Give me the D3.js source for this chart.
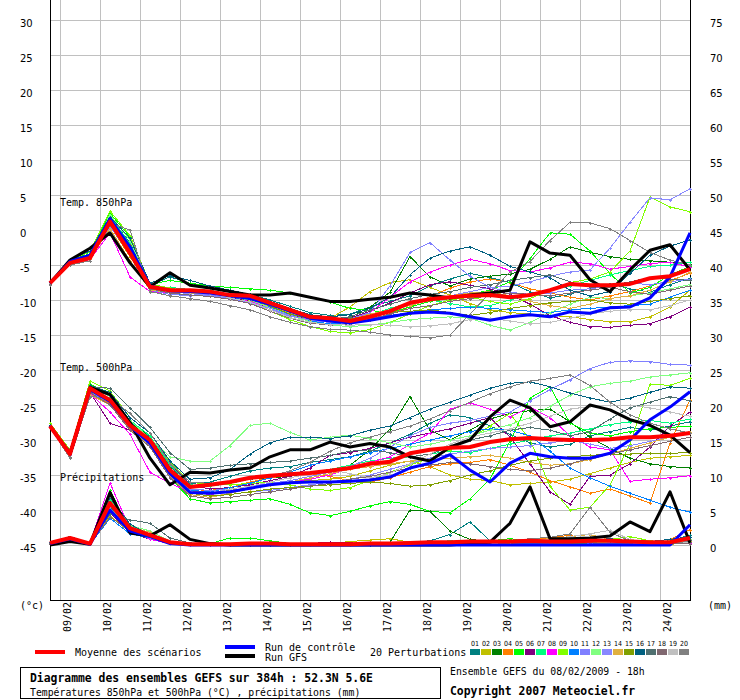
<!DOCTYPE html>
<html>
<head>
<meta charset="utf-8">
<script src="https://cdn.jsdelivr.net/npm/d3@7"></script>
<style>
  body { margin: 0; background: #fff; }
  svg { display: block; }
</style>
</head>
<body>
<div id="chart"></div>
<script>
// forecast hours (run of 08/02/2009 18h)
const hours = [0,12,24,36,48,60,72,84,96,108,120,132,144,156,168,180,192,204,216,228,240,252,264,276,288,300,312,324,336,348,360,372,384];
const dayLabels = ['09/02','10/02','11/02','12/02','13/02','14/02','15/02','16/02','17/02','18/02','19/02','20/02','21/02','22/02','23/02','24/02'];
const dayHours = [6,30,54,78,102,126,150,174,198,222,246,270,294,318,342,366];
const tempTicks = [30,25,20,15,10,5,0,-5,-10,-15,-20,-25,-30,-35,-40,-45];
const precipTicks = [75,70,65,60,55,50,45,40,35,30,25,20,15,10,5,0];
const memberNames = ['01','02','03','04','05','06','07','08','09','10','11','12','13','14','15','16','17','18','19','20'];
const memberColors = ['#008080','#c0c000','#008000','#ff8000','#00ff00','#800080','#00ff80','#ff00ff','#80ff00','#0080ff',
                      '#8080ff','#80ff80','#8888ff','#e0b040','#80a000','#006080','#507070','#806870','#c0c0c0','#808080'];

// Temp. 850hPa
const t850Mean = [-7.6,-4.7,-4.0,1.2,-3.3,-8.1,-8.6,-8.6,-8.8,-9.3,-9.4,-10.4,-11.4,-12.4,-12.6,-13.0,-12.4,-11.6,-10.4,-9.9,-9.6,-9.4,-9.3,-9.6,-9.3,-8.6,-7.7,-7.9,-7.9,-7.7,-6.9,-6.6,-5.6];
const t850Control = [-7.6,-4.5,-3.6,1.6,-2.4,-8.0,-8.7,-8.8,-9.0,-9.4,-9.8,-10.6,-11.6,-12.6,-13.0,-13.3,-12.9,-12.4,-11.9,-11.7,-11.9,-12.4,-12.9,-12.4,-12.1,-12.4,-11.7,-11.9,-11.1,-11.0,-9.7,-6.7,-0.4];
const t850Gfs = [-7.6,-4.3,-2.6,-0.4,-4.7,-8.1,-6.1,-7.9,-8.3,-8.8,-9.3,-9.3,-9.0,-9.6,-10.2,-10.2,-9.9,-9.6,-9.0,-9.3,-9.7,-9.3,-9.0,-8.6,-1.7,-3.3,-3.6,-7.1,-8.8,-5.7,-2.9,-2.1,-5.7];
const t850Pert = [
  [-7.6,-4.3,-3.4,1.8,-1.8,-7.9,-6.7,-7.6,-8.2,-8.8,-9.2,-10.0,-10.9,-11.8,-12.2,-12.0,-11.0,-10.2,-9.4,-8.0,-7.0,-6.2,-6.8,-7.5,-8.8,-9.7,-9.2,-8.3,-7.7,-8.4,-8.9,-7.8,-6.9],
  [-7.7,-4.8,-3.9,0.6,-3.8,-8.3,-8.8,-8.9,-9.0,-9.6,-10.1,-11.0,-12.0,-12.9,-12.6,-11.0,-8.8,-7.5,-7.1,-8.2,-9.3,-10.5,-11.4,-11.8,-12.0,-12.2,-12.4,-12.8,-13.1,-13.1,-12.4,-11.0,-8.6],
  [-7.5,-4.4,-3.6,1.2,-2.6,-8.0,-8.4,-8.6,-8.9,-9.4,-9.8,-10.7,-11.5,-12.4,-12.7,-12.5,-11.0,-8.9,-3.8,-6.7,-8.0,-7.0,-6.6,-6.3,-5.6,-4.2,-2.4,-3.2,-3.8,-4.2,-4.4,-4.6,-4.9],
  [-7.7,-5.0,-4.2,0.4,-3.2,-8.5,-8.9,-9.0,-9.1,-9.5,-9.8,-10.7,-11.6,-12.6,-13.0,-13.3,-12.8,-12.0,-11.0,-9.5,-8.3,-7.4,-7.0,-7.5,-8.4,-9.0,-9.6,-10.0,-9.4,-8.8,-8.0,-7.2,-6.2],
  [-7.5,-4.2,-3.2,2.4,-1.0,-7.8,-7.2,-7.6,-8.0,-8.2,-8.4,-8.6,-9.0,-9.6,-10.3,-11.2,-11.5,-11.8,-11.0,-10.2,-9.8,-9.2,-8.6,-7.4,-4.1,-0.4,-0.6,-3.0,-6.2,-9.0,-8.2,-6.4,-5.2],
  [-7.6,-4.6,-3.8,0.9,-3.6,-8.4,-8.7,-8.9,-9.2,-9.7,-10.2,-11.1,-12.0,-12.8,-13.0,-12.6,-11.6,-10.4,-9.0,-7.8,-7.4,-7.9,-8.4,-9.2,-10.6,-12.2,-13.2,-13.8,-13.9,-13.6,-13.4,-12.4,-11.0],
  [-7.6,-4.5,-3.4,2.0,-2.0,-8.1,-8.2,-8.5,-8.6,-9.2,-9.8,-10.8,-11.9,-12.6,-12.8,-12.9,-12.2,-11.2,-10.4,-10.0,-10.5,-11.0,-10.8,-10.0,-9.2,-8.6,-8.0,-7.2,-6.4,-5.8,-5.2,-5.0,-4.6],
  [-7.6,-4.9,-4.2,-0.4,-6.7,-8.8,-9.0,-9.3,-9.5,-9.8,-10.2,-11.0,-11.9,-12.8,-13.2,-12.8,-11.8,-9.6,-7.4,-6.0,-5.0,-4.2,-4.8,-5.8,-6.0,-5.4,-4.6,-4.8,-5.6,-5.2,-4.8,-4.6,-5.3],
  [-7.4,-4.3,-3.1,2.7,-0.8,-7.7,-8.3,-8.8,-9.1,-9.7,-10.4,-11.6,-12.8,-13.8,-14.5,-14.7,-14.2,-13.2,-12.0,-10.8,-10.0,-9.6,-10.2,-10.6,-9.8,-8.6,-7.5,-7.0,-6.0,-3.0,4.7,3.3,2.6],
  [-7.7,-4.4,-3.5,1.0,-2.8,-8.4,-9.0,-9.4,-9.3,-9.6,-10.0,-11.0,-12.1,-13.0,-13.4,-13.2,-12.6,-12.2,-11.8,-11.4,-11.2,-11.0,-11.2,-11.4,-11.6,-11.8,-11.4,-11.2,-11.0,-10.8,-10.6,-9.6,-8.6],
  [-7.6,-4.7,-3.9,0.8,-3.4,-8.6,-9.2,-9.4,-9.4,-9.8,-10.4,-11.4,-12.3,-12.9,-13.1,-12.7,-11.8,-8.0,-3.2,-1.8,-4.3,-6.6,-8.2,-8.9,-9.2,-9.0,-8.6,-8.4,-8.0,-7.6,-7.8,-7.4,-7.0],
  [-7.5,-4.5,-3.6,2.2,-1.5,-8.0,-8.6,-8.8,-9.0,-9.5,-10.0,-11.1,-12.2,-13.1,-13.6,-13.8,-13.6,-13.2,-12.8,-12.6,-12.4,-12.6,-13.6,-14.3,-13.2,-11.8,-10.6,-9.6,-9.8,-9.4,-9.0,-8.4,-7.8],
  [-7.7,-4.8,-4.0,0.5,-3.4,-8.2,-8.8,-9.1,-9.3,-9.7,-10.3,-11.2,-12.2,-12.9,-13.2,-13.0,-12.4,-11.4,-10.6,-10.0,-9.4,-8.8,-8.2,-8.0,-7.4,-6.6,-6.0,-5.7,-2.6,1.1,4.6,4.3,5.9],
  [-7.7,-4.9,-4.1,0.2,-4.4,-8.6,-8.9,-9.0,-9.1,-9.4,-9.9,-10.9,-11.9,-12.7,-13.0,-12.8,-12.0,-11.4,-10.8,-10.0,-9.4,-9.0,-8.8,-9.4,-10.2,-10.8,-11.2,-10.6,-9.8,-9.4,-8.6,-7.4,-6.0],
  [-7.6,-4.4,-3.5,1.4,-2.2,-8.1,-8.5,-8.7,-8.8,-9.2,-9.8,-10.9,-12.0,-12.7,-12.9,-12.7,-12.2,-11.8,-11.6,-11.4,-11.8,-12.2,-11.8,-11.2,-10.8,-10.4,-10.2,-10.0,-10.4,-10.6,-10.2,-9.8,-9.4],
  [-7.6,-4.2,-3.0,1.9,-1.2,-7.6,-6.5,-7.2,-8.0,-8.6,-9.2,-10.2,-11.2,-12.1,-12.4,-12.1,-11.2,-9.6,-6.4,-4.0,-3.0,-2.4,-3.6,-5.2,-6.0,-6.8,-8.6,-9.4,-8.8,-6.2,-3.6,-2.3,-1.4],
  [-7.6,-4.6,-3.7,1.0,-2.6,-8.2,-8.6,-8.8,-9.1,-9.5,-9.9,-10.8,-11.7,-12.6,-12.8,-12.4,-11.4,-10.6,-9.8,-9.2,-8.8,-8.2,-7.8,-7.2,-6.8,-6.4,-7.4,-8.2,-8.0,-7.4,-6.8,-7.0,-7.2],
  [-7.7,-4.7,-4.0,0.7,-3.0,-8.4,-9.0,-9.3,-9.5,-9.9,-10.5,-11.6,-12.6,-13.3,-13.6,-13.4,-12.8,-12.0,-11.2,-10.8,-10.2,-9.8,-9.4,-9.0,-9.2,-9.4,-9.0,-8.6,-8.2,-8.8,-9.2,-8.6,-8.0],
  [-7.6,-4.5,-3.6,1.3,-2.4,-8.2,-8.7,-8.9,-9.1,-9.7,-10.3,-11.4,-12.5,-13.2,-13.5,-13.6,-13.5,-13.6,-13.8,-13.7,-13.4,-12.8,-12.6,-13.0,-13.4,-13.2,-12.6,-12.0,-11.6,-11.4,-11.4,-10.8,-10.0],
  [-7.8,-5.0,-4.4,1.0,0.0,-8.8,-9.4,-9.8,-10.2,-10.8,-11.4,-12.4,-13.2,-13.8,-14.2,-14.3,-14.6,-15.0,-15.2,-15.4,-15.0,-12.0,-9.0,-6.0,-4.5,-1.5,1.1,1.0,0.2,-1.5,-3.2,-4.3,-5.0]
];

// Temp. 500hPa
const t500Mean = [-28.0,-32.0,-22.6,-24.3,-27.9,-30.0,-34.3,-36.7,-36.4,-36.0,-35.4,-35.1,-34.9,-34.7,-34.4,-34.0,-33.4,-33.1,-31.9,-31.4,-31.1,-31.0,-30.3,-29.9,-29.7,-29.9,-30.0,-30.0,-29.9,-29.6,-29.6,-29.4,-29.0];
const t500Control = [-28.0,-32.0,-22.8,-24.5,-28.0,-30.5,-34.8,-37.5,-37.6,-37.4,-36.9,-36.4,-36.1,-36.0,-36.0,-35.9,-35.7,-35.3,-34.0,-33.3,-32.1,-34.3,-36.0,-33.3,-31.9,-32.4,-32.6,-32.6,-31.9,-30.0,-27.1,-25.3,-23.1];
const t500Gfs = [-28.0,-32.0,-22.5,-23.5,-27.5,-32.6,-36.4,-34.6,-34.7,-34.3,-34.0,-32.4,-31.4,-31.4,-30.3,-31.0,-30.5,-31.0,-32.4,-33.0,-31.0,-30.0,-26.7,-24.3,-25.4,-28.1,-27.4,-25.0,-25.7,-27.1,-27.9,-29.3,-31.8];
const t500Pert = [
  [-27.8,-31.6,-22.8,-23.6,-27.4,-29.6,-33.8,-36.2,-36.0,-35.2,-34.4,-34.0,-33.8,-33.2,-32.8,-32.4,-31.6,-30.4,-29.2,-27.6,-26.4,-26.8,-28.0,-29.2,-30.4,-31.0,-30.6,-29.4,-28.8,-28.2,-28.6,-28.0,-27.4],
  [-28.2,-32.2,-23.0,-24.6,-28.0,-30.6,-34.8,-37.2,-37.6,-37.2,-36.8,-36.4,-36.0,-35.8,-35.6,-35.2,-34.4,-33.6,-33.0,-33.8,-35.0,-35.6,-35.8,-36.4,-36.2,-36.0,-35.6,-34.8,-34.0,-33.2,-32.6,-32.4,-32.2],
  [-28.0,-31.8,-22.4,-23.8,-27.6,-29.4,-34.0,-36.6,-36.4,-36.0,-35.6,-35.4,-35.2,-34.6,-34.2,-33.6,-31.4,-28.4,-23.8,-28.6,-30.0,-28.6,-27.0,-26.2,-25.8,-25.6,-27.4,-29.6,-31.2,-32.6,-33.4,-33.8,-34.0],
  [-28.0,-32.4,-23.4,-24.8,-28.4,-30.4,-34.8,-37.4,-37.2,-36.8,-36.0,-35.4,-35.0,-34.8,-35.2,-35.8,-36.0,-35.4,-34.6,-33.8,-33.4,-33.2,-32.8,-33.6,-34.6,-35.8,-36.7,-37.6,-37.0,-38.0,-39.0,-30.4,-24.3],
  [-27.8,-32.0,-22.0,-23.4,-27.6,-30.6,-35.4,-38.4,-39.0,-38.8,-38.6,-38.4,-39.2,-40.4,-40.8,-40.2,-39.4,-38.8,-39.2,-40.2,-40.4,-38.4,-35.6,-30.2,-24.0,-22.4,-27.6,-29.0,-29.4,-28.8,-28.4,-28.2,-28.0],
  [-28.0,-32.2,-23.2,-27.6,-28.6,-29.6,-33.4,-36.4,-37.0,-36.8,-36.4,-35.8,-35.2,-34.0,-32.2,-31.8,-31.2,-30.4,-29.6,-29.0,-28.4,-27.6,-26.8,-29.6,-33.4,-37.4,-39.2,-35.2,-35.0,-33.4,-31.0,-28.0,-26.0],
  [-28.0,-31.8,-22.2,-23.6,-27.2,-29.4,-33.6,-36.4,-36.6,-36.2,-35.6,-35.0,-34.8,-34.6,-34.2,-33.6,-33.0,-32.6,-32.4,-32.0,-31.6,-31.8,-31.2,-30.6,-30.0,-29.4,-29.0,-28.4,-27.8,-27.4,-27.2,-27.6,-27.0],
  [-28.2,-32.4,-23.4,-26.0,-29.2,-34.6,-36.2,-37.4,-37.8,-37.4,-36.8,-36.4,-36.0,-35.6,-35.0,-34.0,-33.2,-32.4,-30.6,-29.0,-25.6,-24.7,-25.6,-26.7,-25.3,-26.8,-29.4,-31.0,-31.4,-35.9,-35.6,-35.4,-35.1],
  [-27.6,-31.4,-21.6,-23.0,-26.8,-29.0,-33.2,-36.0,-36.4,-36.4,-36.2,-36.0,-36.4,-37.0,-37.2,-36.8,-35.8,-34.6,-33.6,-32.6,-31.4,-29.8,-28.0,-26.2,-30.0,-36.6,-40.0,-39.6,-36.4,-30.6,-22.0,-22.2,-21.2],
  [-28.0,-32.0,-22.8,-24.2,-28.0,-30.2,-34.6,-37.2,-37.4,-36.8,-36.2,-35.4,-34.6,-33.6,-33.0,-32.4,-31.8,-31.2,-30.6,-30.0,-29.4,-28.8,-28.4,-28.6,-29.4,-31.6,-34.0,-35.4,-36.6,-37.6,-38.6,-39.6,-40.3],
  [-28.2,-32.2,-23.0,-24.6,-28.2,-30.4,-34.6,-37.0,-37.2,-37.0,-36.6,-36.2,-35.8,-35.2,-34.6,-33.8,-32.6,-31.0,-29.4,-28.2,-27.6,-27.2,-26.6,-26.0,-24.4,-22.8,-21.4,-19.8,-18.9,-18.7,-18.8,-19.2,-19.3],
  [-27.8,-31.8,-22.4,-23.8,-27.2,-29.8,-32.4,-33.0,-33.0,-30.8,-27.9,-27.6,-28.9,-30.0,-29.6,-29.3,-29.8,-30.4,-31.0,-30.6,-30.0,-29.4,-28.6,-27.8,-26.8,-25.2,-23.6,-22.4,-21.9,-21.6,-21.0,-20.7,-20.4],
  [-28.0,-32.2,-23.2,-24.6,-28.2,-30.6,-35.0,-37.6,-38.0,-37.8,-37.4,-37.2,-36.8,-36.4,-36.0,-35.6,-35.0,-34.2,-33.4,-32.6,-32.0,-31.6,-31.2,-31.0,-30.8,-30.4,-30.0,-30.6,-31.2,-30.8,-30.2,-29.6,-29.0],
  [-28.0,-32.6,-23.6,-25.0,-28.6,-30.8,-35.2,-37.8,-38.2,-37.6,-37.0,-36.4,-36.0,-35.4,-34.8,-34.2,-33.8,-33.4,-33.0,-32.8,-32.6,-32.4,-32.2,-32.6,-33.2,-33.6,-33.4,-32.8,-32.0,-31.2,-30.4,-29.6,-28.8],
  [-28.0,-32.0,-22.8,-24.4,-28.0,-30.4,-34.8,-37.6,-38.0,-37.8,-37.4,-37.0,-36.8,-36.6,-36.4,-36.2,-36.0,-36.2,-36.6,-36.4,-35.8,-35.0,-34.4,-33.6,-33.0,-32.6,-32.4,-32.2,-32.0,-32.0,-31.9,-31.9,-31.8],
  [-27.8,-31.6,-22.2,-23.2,-26.8,-29.0,-33.0,-35.6,-35.4,-34.2,-32.0,-30.4,-29.6,-29.6,-29.8,-29.4,-28.6,-28.0,-26.8,-25.6,-24.6,-23.6,-22.6,-21.9,-21.7,-22.4,-23.3,-24.0,-24.6,-24.0,-23.2,-22.4,-22.6],
  [-28.0,-31.8,-22.4,-22.6,-25.4,-28.2,-31.8,-34.2,-34.0,-33.6,-33.4,-33.2,-33.0,-32.6,-32.2,-31.6,-31.4,-31.8,-32.4,-32.0,-31.0,-30.0,-29.4,-28.6,-28.2,-28.6,-29.4,-28.8,-27.0,-25.4,-24.6,-23.8,-24.4],
  [-28.2,-32.4,-23.2,-25.0,-28.6,-31.0,-35.4,-38.0,-38.4,-38.2,-37.8,-37.4,-37.0,-36.6,-36.2,-35.6,-35.2,-34.6,-34.0,-33.6,-33.2,-33.4,-33.8,-34.2,-34.4,-34.0,-33.4,-32.6,-32.0,-31.4,-30.8,-30.2,-29.6],
  [-28.0,-32.0,-23.0,-24.6,-28.2,-30.4,-34.8,-37.4,-37.6,-37.0,-36.6,-36.0,-35.4,-34.8,-34.2,-34.8,-35.4,-34.8,-33.4,-32.0,-30.6,-29.6,-29.0,-28.4,-27.6,-26.6,-25.6,-25.2,-25.0,-25.0,-25.4,-26.0,-26.6],
  [-28.2,-32.6,-23.8,-24.0,-26.2,-29.0,-33.4,-36.0,-36.2,-36.0,-35.6,-35.2,-34.4,-33.2,-31.6,-30.4,-29.6,-28.8,-28.0,-27.0,-25.8,-24.6,-23.4,-22.4,-21.6,-21.2,-20.7,-22.2,-24.6,-26.4,-27.6,-28.4,-29.0]
];

// Précipitations (mm)
const rainMean = [0.3,1.0,0.2,6.0,2.4,1.4,0.4,0.1,0.1,0.1,0.2,0.2,0.1,0.1,0.1,0.1,0.2,0.2,0.3,0.4,0.4,0.5,0.5,0.5,0.6,0.5,0.5,0.6,0.6,0.5,0.4,0.4,1.0];
const rainControl = [0.2,0.9,0.1,5.0,2.0,1.2,0.2,0,0,0,0,0,0,0,0,0,0,0,0,0,0,0,0,0,0,0,0,0,0,0,0,0,2.9];
const rainGfs = [0,0.5,0.1,7.5,1.7,1.3,2.9,0.8,0.2,0,0,0,0,0,0,0,0,0,0,0,0,0.2,0.4,3.1,8.3,0.9,0.9,1.0,1.3,3.3,1.9,7.6,0.3];
const rainPert = [
  [0.3,1.0,0.2,5.4,2.6,1.2,0.3,0.1,0,0,0.1,0.1,0,0,0,0.1,0.2,0.3,0.4,0.6,1.5,3.3,0.6,0.3,0.2,0.4,0.6,0.3,0.5,0.8,0.4,0.6,1.4],
  [0.2,0.9,0.1,4.2,1.8,0.9,0.2,0,0,0.1,0.2,0.3,0.2,0.1,0.2,0.5,0.7,0.9,0.4,0.2,0.1,0.2,0.3,0.5,0.4,0.2,0.1,0.3,0.6,0.4,0.2,0.1,0.3],
  [0.3,1.1,0.2,6.2,2.2,1.4,0.4,0.1,0,0,0,0.1,0.1,0,0.1,0.2,0.3,0.4,5.0,4.8,2.0,0.8,0.5,0.3,0.4,0.3,0.2,0.6,0.4,0.2,0.1,0.3,0.6],
  [0.2,0.8,0.1,5.0,2.4,1.6,0.3,0.1,0,0,0.1,0.1,0,0,0,0,0.1,0.2,0.3,0.2,0.1,0.3,0.5,0.4,0.8,1.0,1.4,0.6,0.4,0.3,0.5,0.8,2.2],
  [0.4,1.2,0.3,7.8,2.0,1.2,0.3,0.1,0.2,1.0,1.0,0.6,0.2,0.1,0,0,0.1,0.1,0.2,0.2,0.3,0.4,0.6,0.9,0.6,0.4,0.2,0.3,0.5,0.3,0.2,0.4,0.3],
  [0.2,0.9,0.2,4.6,1.8,0.8,0.2,0,0,0,0,0,0.1,0.2,0.4,0.3,0.2,0.1,0.2,0.3,0.2,0.1,0.2,0.4,0.3,0.5,0.8,0.4,0.3,0.2,0.1,0.2,0.4],
  [0.3,1.0,0.2,6.6,2.8,1.6,0.5,0.2,0.1,0,0,0.1,0.2,0.1,0,0.1,0.2,0.2,0.3,0.4,0.6,0.4,0.3,0.2,0.4,0.6,0.4,0.3,0.5,0.7,0.6,0.4,0.5],
  [0.3,1.0,0.3,8.9,2.2,0.8,0.2,0,0,0,0.1,0,0,0,0,0,0.1,0.1,0.2,0.3,0.4,0.3,0.2,0.3,0.6,0.4,0.3,0.5,0.4,0.3,0.2,0.4,0.3],
  [0.4,1.1,0.2,7.2,2.0,1.0,0.3,0.1,0,0,0,0.1,0.1,0,0,0.1,0.1,0.2,0.3,0.2,0.2,0.3,0.4,0.6,0.9,0.7,0.4,0.5,0.8,1.2,0.6,0.4,0.8],
  [0.2,0.9,0.1,3.8,1.6,1.0,0.3,0,0,0,0.1,0.1,0,0,0,0,0,0.1,0.1,0.2,0.1,0.2,0.1,0.2,0.3,0.2,0.1,0.2,0.3,0.2,0.1,0.2,0.4],
  [0.3,1.0,0.2,5.6,2.4,1.2,0.3,0.1,0,0,0,0,0,0,0,0.1,0.1,0.2,0.3,0.4,0.3,0.2,0.3,0.2,0.4,0.5,0.3,0.2,0.3,0.4,0.5,0.3,0.2],
  [0.2,0.8,0.2,5.2,2.8,2.0,0.6,0.1,0,0,0.1,0.2,0.1,0,0,0.1,0.2,0.1,0.2,0.3,0.2,0.1,0.2,0.3,0.2,0.4,0.6,0.5,0.3,0.4,0.3,0.6,0.9],
  [0.3,1.0,0.2,6.0,2.0,1.0,0.2,0,0,0,0,0.1,0.1,0.1,0.1,0.2,0.2,0.1,0.2,0.1,0.2,0.3,0.4,0.3,0.2,0.3,0.4,0.6,0.4,0.3,0.2,0.3,0.5],
  [0.2,0.9,0.2,4.8,2.6,1.8,0.4,0.1,0,0,0,0,0,0,0,0.1,0.2,0.3,0.2,0.2,0.3,0.2,0.3,0.5,0.7,0.9,1.2,1.5,0.8,0.5,0.3,0.4,0.6],
  [0.3,1.0,0.2,5.8,2.2,1.2,0.3,0.1,0,0,0,0.1,0,0,0.1,0.1,0.1,0.2,0.1,0.2,0.3,0.2,0.1,0.2,0.4,0.3,0.2,0.3,0.2,0.3,0.4,0.3,0.2],
  [0.3,1.1,0.3,6.8,3.0,1.4,0.4,0.1,0,0,0.1,0.1,0.2,0.1,0,0,0.1,0.2,0.3,0.5,0.4,0.6,0.4,0.3,0.6,0.5,0.4,0.7,0.9,0.6,0.5,0.8,1.2],
  [0.4,1.2,0.3,4.4,3.6,3.1,1.0,0.3,0.1,0,0,0,0.1,0,0,0,0.1,0.1,0.2,0.3,0.4,0.5,0.3,0.4,0.5,0.6,0.8,1.0,0.6,0.4,0.3,0.5,0.7],
  [0.2,0.9,0.1,4.0,2.0,1.4,0.3,0.1,0,0,0,0,0,0,0,0.1,0.1,0.1,0.2,0.1,0.2,0.3,0.2,0.3,0.2,0.3,0.4,0.3,0.2,0.3,0.4,0.3,0.2],
  [0.3,0.9,0.2,5.0,2.4,1.2,0.3,0.1,0,0,0,0,0.1,0,0,0,0.1,0.2,0.2,0.3,0.4,0.3,0.2,0.4,0.6,0.8,1.2,1.6,2.1,0.8,0.4,0.3,0.4],
  [0.3,1.0,0.2,7.0,2.6,1.6,0.4,0.1,0,0,0,0,0,0.1,0.1,0.2,0.3,0.2,0.3,0.4,0.5,0.4,0.3,0.6,0.9,1.1,1.6,5.4,1.8,0.6,0.4,0.3,0.5]
];

const width = 740;
const height = 700;
const MONO = '"DejaVu Sans Mono", "Liberation Mono", monospace';
const SANS = '"DejaVu Sans", Arial, sans-serif';

const svg = d3.select('#chart').append('svg')
    .attr('width', width)
    .attr('height', height)
    .style('background', '#fff');

const x = d3.scaleLinear().domain([0, 384]).range([50, 690]);
const yT = d3.scaleLinear().domain([-45, 30]).range([545, 20]);
const yP = d3.scaleLinear().domain([0, 75]).range([545, 20]);

// grid
const grid = svg.append('g').attr('stroke', '#c0c0c0').attr('stroke-width', 1).attr('shape-rendering', 'crispEdges');
grid.selectAll('.hg').data(tempTicks).enter().append('line')
    .attr('x1', 50).attr('x2', 690)
    .attr('y1', d => yT(d) + 0.5).attr('y2', d => yT(d) + 0.5);
grid.selectAll('.vg').data(dayHours).enter().append('line')
    .attr('x1', d => x(d) + 0.5).attr('x2', d => x(d) + 0.5)
    .attr('y1', 0).attr('y2', 600);

// axes frame
const frame = svg.append('g').attr('stroke', '#000').attr('stroke-width', 1).attr('shape-rendering', 'crispEdges');
frame.append('line').attr('x1', 50.5).attr('x2', 50.5).attr('y1', 0).attr('y2', 600);
frame.append('line').attr('x1', 690.5).attr('x2', 690.5).attr('y1', 0).attr('y2', 600);
frame.append('line').attr('x1', 50).attr('x2', 691).attr('y1', 600.5).attr('y2', 600.5);

// tick labels
svg.append('g').selectAll('text').data(tempTicks).enter().append('text')
    .attr('x', 20).attr('y', d => yT(d) + 7)
    .style('font-family', SANS).style('font-size', '10px')
    .text(d => d);
svg.append('g').selectAll('text').data(precipTicks).enter().append('text')
    .attr('x', 710).attr('y', d => yP(d) + 7)
    .style('font-family', SANS).style('font-size', '10px')
    .text(d => d);

svg.append('text').attr('x', 20).attr('y', 609)
    .style('font-family', MONO).style('font-size', '10px').text('(°c)');
svg.append('text').attr('x', 708).attr('y', 609)
    .style('font-family', MONO).style('font-size', '10px').text('(mm)');

// date labels
svg.append('g').selectAll('text').data(dayLabels).enter().append('text')
    .attr('transform', (d, i) => `translate(${x(dayHours[i]) + 10.5},602) rotate(-90)`)
    .attr('text-anchor', 'end')
    .style('font-family', MONO).style('font-size', '10px')
    .text(d => d);

// panel titles
const titles = [['Temp. 850hPa', 206], ['Temp. 500hPa', 371], ['Précipitations', 481]];
svg.append('g').selectAll('text').data(titles).enter().append('text')
    .attr('x', 60).attr('y', d => d[1])
    .style('font-family', MONO).style('font-size', '10px')
    .text(d => d[0]);

// series
const lineT = d3.line().x((d, i) => x(hours[i])).y(d => yT(d));
const lineP = d3.line().x((d, i) => x(hours[i])).y(d => yP(d));

function crosses(values, yScale) {
    return values.map((v, i) => {
        const px = Math.round(x(hours[i])) + 0.5;
        const py = Math.round(yScale(v)) + 0.5;
        return `M${px - 1.5},${py}h3M${px},${py - 1.5}v3`;
    }).join('');
}

const pertLayer = svg.append('g').attr('fill', 'none').attr('shape-rendering', 'crispEdges');
[[t850Pert, lineT, yT], [t500Pert, lineT, yT], [rainPert, lineP, yP]].forEach(([set, gen, ys]) => {
    set.forEach((vals, m) => {
        pertLayer.append('path')
            .attr('d', gen(vals))
            .attr('stroke', memberColors[m])
            .attr('stroke-width', 1);
        pertLayer.append('path')
            .attr('d', crosses(vals, ys))
            .attr('stroke', memberColors[m])
            .attr('stroke-width', 1);
    });
});

const mainLayer = svg.append('g').attr('fill', 'none').attr('stroke-linejoin', 'round');
const mainSeries = [
    [t850Gfs, lineT, '#000', 3], [t500Gfs, lineT, '#000', 3], [rainGfs, lineP, '#000', 3],
    [t850Control, lineT, '#0000ff', 3], [t500Control, lineT, '#0000ff', 3], [rainControl, lineP, '#0000ff', 3],
    [t850Mean, lineT, '#ff0000', 4], [t500Mean, lineT, '#ff0000', 4], [rainMean, lineP, '#ff0000', 4]
];
mainSeries.forEach(([vals, gen, col, w]) => {
    mainLayer.append('path')
        .attr('d', gen(vals))
        .attr('stroke', col)
        .attr('stroke-width', w);
});

// legend
const lg = svg.append('g').style('font-family', MONO).style('font-size', '10px');
lg.append('rect').attr('x', 35).attr('y', 650).attr('width', 30).attr('height', 4).attr('fill', '#ff0000');
lg.append('text').attr('x', 75).attr('y', 656).text('Moyenne des scénarios');
lg.append('rect').attr('x', 225).attr('y', 645).attr('width', 30).attr('height', 4).attr('fill', '#0000ff');
lg.append('rect').attr('x', 225).attr('y', 654).attr('width', 30).attr('height', 4).attr('fill', '#000');
lg.append('text').attr('x', 265).attr('y', 651).text('Run de contrôle');
lg.append('text').attr('x', 265).attr('y', 661).text('Run GFS');
lg.append('text').attr('x', 370).attr('y', 656).text('20 Perturbations');

const sw = svg.append('g');
sw.selectAll('rect').data(memberNames).enter().append('rect')
    .attr('x', (d, i) => 470 + i * 11).attr('y', 649)
    .attr('width', 10).attr('height', 6)
    .attr('fill', (d, i) => memberColors[i]);
sw.selectAll('text').data(memberNames).enter().append('text')
    .attr('x', (d, i) => 475 + i * 11).attr('y', 646)
    .attr('text-anchor', 'middle')
    .style('font-family', '"DejaVu Sans Condensed", "DejaVu Sans", sans-serif')
    .style('font-size', '7px')
    .text(d => d);

// info box
svg.append('rect').attr('x', 20.5).attr('y', 667.5).attr('width', 420).attr('height', 31)
    .attr('fill', 'none').attr('stroke', '#000').attr('stroke-width', 1);
svg.append('text').attr('x', 30).attr('y', 682)
    .style('font-family', MONO).style('font-size', '11.4px').style('font-weight', 'bold')
    .text('Diagramme des ensembles GEFS sur 384h : 52.3N 5.6E');
svg.append('text').attr('x', 30).attr('y', 696)
    .style('font-family', MONO).style('font-size', '9.8px')
    .text('Températures 850hPa et 500hPa (°C) , précipitations (mm)');
svg.append('text').attr('x', 450).attr('y', 675)
    .style('font-family', MONO).style('font-size', '9.8px')
    .text('Ensemble GEFS du 08/02/2009 - 18h');
svg.append('text').attr('x', 450).attr('y', 695)
    .style('font-family', MONO).style('font-size', '11.4px').style('font-weight', 'bold')
    .text('Copyright 2007 Meteociel.fr');
</script>
</body>
</html>
